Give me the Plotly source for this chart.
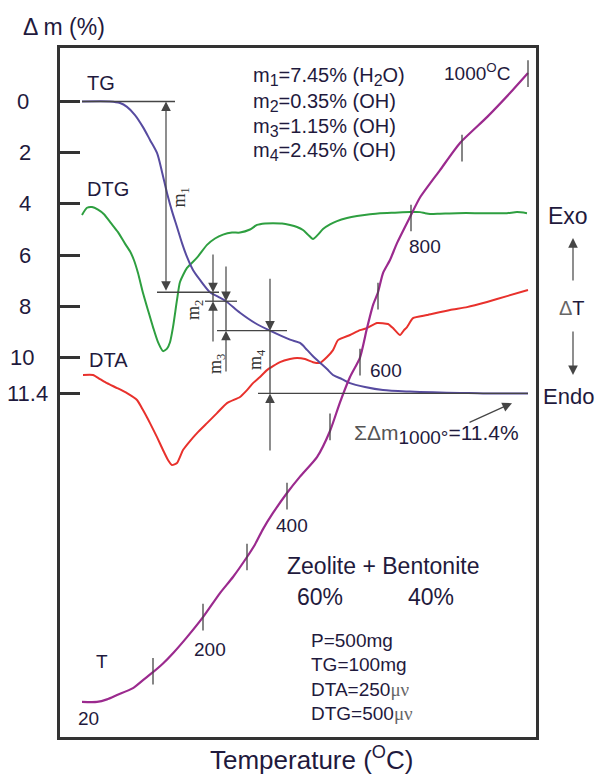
import plotly.graph_objects as go

# ---------------- data (x: arbitrary time scale of the recorder, y: Δm %) ----------------
tg_x = [82, 110, 120, 127, 135, 143, 150, 157, 162, 167, 172, 177, 182, 187, 193, 200, 210, 218, 226, 240,
        255, 270, 290, 300, 307, 313, 320, 327, 333, 342, 350, 365, 383, 410, 433, 460, 483, 510, 528]
tg_y = [0, 0, 0.06, 0.21, 0.53, 1.0, 1.5, 2.01, 2.75, 3.57, 4.28, 4.9, 5.53, 6.07, 6.58, 6.97, 7.45, 7.62, 7.8, 8.25,
        8.65, 8.95, 9.3, 9.43, 9.7, 9.95, 10.2, 10.45, 10.68, 10.84, 11.0, 11.15, 11.27, 11.33, 11.36, 11.38, 11.4, 11.4, 11.4]

dtg_x = [82, 87, 92, 98, 104, 111, 118, 125, 130, 134, 138, 143, 148, 153, 158, 163, 167, 170, 173, 177,
         180, 187, 197, 207, 215, 223, 232, 240, 250, 257, 265, 273, 282, 290, 297, 303, 308, 313, 318, 323,
         330, 337, 347, 357, 370, 380, 395, 410, 420, 425, 430, 440, 457, 475, 490, 507, 517, 527]
dtg_y = [4.43, 4.15, 4.12, 4.22, 4.4, 4.75, 5.1, 5.55, 5.85, 6.2, 6.7, 7.48, 8.15, 8.81, 9.4, 9.75, 9.65, 9.4, 8.81, 7.75,
         7.05, 6.5, 6.1, 5.6, 5.35, 5.2, 5.12, 5.12, 5.0, 4.82, 4.76, 4.75, 4.76, 4.82, 4.9, 5.02, 5.2, 5.37, 5.2, 4.98,
         4.8, 4.67, 4.55, 4.47, 4.4, 4.36, 4.34, 4.32, 4.32, 4.36, 4.39, 4.38, 4.36, 4.36, 4.36, 4.36, 4.32, 4.36]

dta_x = [83, 93, 100, 107, 117, 127, 137, 143, 150, 157, 163, 168, 172, 177, 183, 190, 197, 207, 217, 227,
         240, 247, 253, 260, 267, 280, 290, 297, 305, 313, 320, 327, 333, 338, 350, 360, 367, 377, 388, 393,
         400, 404, 407, 413, 427, 450, 467, 487, 507, 528]
dta_y = [10.68, 10.68, 10.84, 11.0, 11.19, 11.39, 11.66, 12.05, 12.56, 13.11, 13.61, 14.0, 14.2, 14.12, 13.61, 13.26, 12.95, 12.56, 12.17, 11.78,
         11.54, 11.27, 11.0, 10.76, 10.49, 10.18, 10.06, 10.02, 10.06, 10.18, 10.21, 9.98, 9.71, 9.32, 9.12, 8.93, 8.85, 8.65, 8.69, 8.85,
         9.12, 8.93, 8.81, 8.46, 8.34, 8.14, 8.03, 7.83, 7.6, 7.36]

t_x = [82, 97, 107, 117, 133, 143, 153, 163, 173, 187, 203, 220, 233, 247, 255, 263, 273, 287, 300, 317,
       330, 340, 350, 360, 367, 373, 378, 383, 390, 397, 410, 420, 440, 460, 487, 510, 528]
t_y = [23.45, 23.45, 23.35, 23.18, 22.91, 22.6, 22.29, 21.95, 21.55, 20.92, 20.14, 19.2, 18.57, 17.79, 17.3, 16.7, 16.07, 15.29, 14.65, 13.89,
       12.87, 11.75, 10.76, 10.0, 8.85, 7.95, 7.45, 6.7, 6.19, 5.53, 4.51, 3.75, 2.68, 1.62, 0.61, -0.33, -1.11]

# 100 °C marks on the T curve
temp_tick_x = [153, 203, 247, 287, 330, 360, 378, 411, 462, 528]
temp_tick_y = [22.25, 20.14, 17.79, 15.41, 12.71, 10.18, 7.6, 4.55, 1.82, -1.09]
temp_labels = ["20", "200", "400", "600", "800", "1000<sup>O</sup>C"]
temp_label_x = [88, 210, 292, 386, 425, 477]
temp_label_y = [24.08, 21.39, 16.54, 10.49, 5.68, -1.15]

y_ticks = [0, 2, 4, 6, 8, 10, 11.4]
y_tick_text = ["0", "2", "4", "6", "8", "10", "11.4"]

m_values = [7.45, 0.35, 1.15, 2.45]
m_levels = [0, 7.45, 7.8, 8.95, 11.4]


def sb(s, size=16):
    return "<sub><span style='font-size:%dpx'>%s</span></sub>" % (size, s)


m_lines = ["m" + sb("1") + "=7.45% (H" + sb("2") + "O)", "m" + sb("2") + "=0.35% (OH)",
           "m" + sb("3") + "=1.15% (OH)", "m" + sb("4") + "=2.45% (OH)"]
MU = "<span style='font-family:Liberation Serif;fill:#666'>μν</span>"
cond_lines = ["P=500mg", "TG=100mg", "DTA=250" + MU, "DTG=500" + MU]

# ---------------- styles ----------------
FONT = "Arial, Liberation Sans, sans-serif"
TXT = "#1f1a3d"
GREY = "#454545"
C_TG, C_DTG, C_DTA, C_T = "#574ba0", "#2e9f40", "#e8312c", "#9b2a8e"

fig = go.Figure()
fig.add_trace(go.Scatter(x=dtg_x, y=dtg_y, mode="lines", line=dict(color=C_DTG, width=2, shape="spline", smoothing=0.6)))
fig.add_trace(go.Scatter(x=dta_x, y=dta_y, mode="lines", line=dict(color=C_DTA, width=2, shape="spline", smoothing=0.5)))
fig.add_trace(go.Scatter(x=tg_x, y=tg_y, mode="lines", line=dict(color=C_TG, width=2, shape="spline", smoothing=0.8)))
fig.add_trace(go.Scatter(x=t_x, y=t_y, mode="lines", line=dict(color=C_T, width=2.2, shape="spline", smoothing=0.6)))

# temperature marks
tk_x, tk_y = [], []
for tx, ty in zip(temp_tick_x, temp_tick_y):
    tk_x += [tx, tx, None]
    tk_y += [ty - 0.52, ty + 0.52, None]
fig.add_trace(go.Scatter(x=tk_x, y=tk_y, mode="lines", line=dict(color=GREY, width=1.3)))

# reference lines of the mass-loss construction
ref_left = [82, 157, 205, 217, 258]
ref_right = [175, 219, 237, 287, 528]
rl_x, rl_y = [], []
for lx, rx, lv in zip(ref_left, ref_right, m_levels):
    rl_x += [lx, rx, None]
    rl_y += [lv, lv, None]
for vx, a, b in [(213, m_levels[1], m_levels[2]), (226, m_levels[2], m_levels[3]), (270, m_levels[3], m_levels[4])]:
    rl_x += [vx, vx, None]
    rl_y += [a, b, None]
fig.add_trace(go.Scatter(x=rl_x, y=rl_y, mode="lines", line=dict(color=GREY, width=1.3)))

ann = []


def arrow(x, y, ax, ay, both=False):
    d = dict(x=x, y=y, ax=ax, ay=ay, xref="x", yref="y", axref="x", ayref="y", text="",
             showarrow=True, arrowhead=2, arrowsize=1.6, arrowwidth=1.2, arrowcolor=GREY, standoff=0)
    if both:
        d.update(arrowside="end+start", startarrowhead=2, startarrowsize=1.6)
    ann.append(d)


arrow(166, m_levels[0], 166, m_levels[1], both=True)
arrow(213, m_levels[1], 213, 5.92)
arrow(213, m_levels[2], 213, 9.43)
arrow(226, m_levels[2], 226, 6.39)
arrow(226, m_levels[3], 226, 10.6)
arrow(270, m_levels[3], 270, 6.86)
arrow(270, m_levels[4], 270, 13.69)
arrow(512, 11.78, 468, 12.56)


def txt(x, y, text, size, color=TXT, xa="center", ya="middle", xref="x", yref="y", family=FONT, angle=0, xshift=0):
    ann.append(dict(x=x, y=y, text=text, xref=xref, yref=yref, showarrow=False, xanchor=xa, yanchor=ya,
                    textangle=angle, xshift=xshift, font=dict(family=family, size=size, color=color)))


# y tick labels (outside left)
tick_label_px = [23, 24.5, 25, 25, 24.5, 22, 27]
for v, t, px in zip(y_ticks, y_tick_text, tick_label_px):
    txt(0, v, t, 22, xref="paper", xshift=px - 60)

txt(0, 1.0305, "Δ m (%)", 23, xref="paper", yref="paper", xshift=4)

# curve names
txt(101, -0.72, "TG", 20)
txt(108, 3.42, "DTG", 20)
txt(108, 10.1, "DTA", 20)
txt(102, 21.86, "T", 19)

# temperature labels
for lx, ly, lt in zip(temp_label_x, temp_label_y, temp_labels):
    txt(lx, ly, lt, 19)

# mass-loss legend
for line, yy in zip(m_lines, [-0.96, 0.02, 1.0, 1.97]):
    txt(251, yy, line, 20, xa="left")

# rotated m labels
SERIF = "Liberation Serif, Times New Roman, serif"
for lab, (lx, ly) in zip(["m<sub>1</sub>", "m<sub>2</sub>", "m<sub>3</sub>", "m<sub>4</sub>"],
                         [(181, 3.75), (195, 8.14), (217, 10.25), (256, 10.1)]):
    txt(lx, ly, lab, 18, color="#333", family=SERIF, angle=-90)

txt(352, 12.99, "<span style='fill:#555'>ΣΔm</span>" + sb("1000°", 19) + "=11.4%", 21, xa="left")

txt(382.5, 18.14, "Zeolite + Bentonite", 23)
txt(320, 19.36, "60%", 23)
txt(431, 19.36, "40%", 23)
for line, yy in zip(cond_lines, [21.04, 21.97, 22.95, 23.89]):
    txt(309, yy, line, 19, xa="left")

# right-side Exo / ΔT / Endo
txt(1, 0.7562, "Exo", 23, xref="paper", yref="paper", xshift=32)
txt(1, 0.6226, "<span style='fill:#666'>Δ</span>T", 20, xref="paper", yref="paper", xshift=36)
txt(1, 0.4949, "Endo", 22, xref="paper", yref="paper", xshift=32)
ann.append(dict(x=1, y=0.7242, xref="paper", yref="paper", xshift=37, ax=0, ay=44, axref="pixel", ayref="pixel",
                text="", showarrow=True, arrowhead=2, arrowsize=1.6, arrowwidth=1.2, arrowcolor=GREY, standoff=0))
ann.append(dict(x=1, y=0.5254, xref="paper", yref="paper", xshift=37, ax=0, ay=-45, axref="pixel", ayref="pixel",
                text="", showarrow=True, arrowhead=2, arrowsize=1.6, arrowwidth=1.2, arrowcolor=GREY, standoff=0))

txt(0.5294, -0.0319, "Temperature (<sup>O</sup>C)", 26, xref="paper", yref="paper")

# the page body has an 8px margin: figure is 8px smaller so the plot frame lands where the reference has it
fig.update_layout(
    width=596, height=766,
    margin=dict(l=52, r=68, t=40, b=37),
    paper_bgcolor="white", plot_bgcolor="white",
    showlegend=False,
    annotations=ann,
    xaxis=dict(range=[60, 536], showgrid=False, zeroline=False, showticklabels=False, ticks="",
               showline=True, mirror=True, linewidth=3, linecolor="#333"),
    yaxis=dict(range=[24.82, -2.09], showgrid=False, zeroline=False, showticklabels=False,
               tickvals=y_ticks, ticks="inside", ticklen=20, tickwidth=3, tickcolor="#333",
               showline=True, mirror=True, linewidth=3, linecolor="#333"),
)

fig.write_html("out.html")
